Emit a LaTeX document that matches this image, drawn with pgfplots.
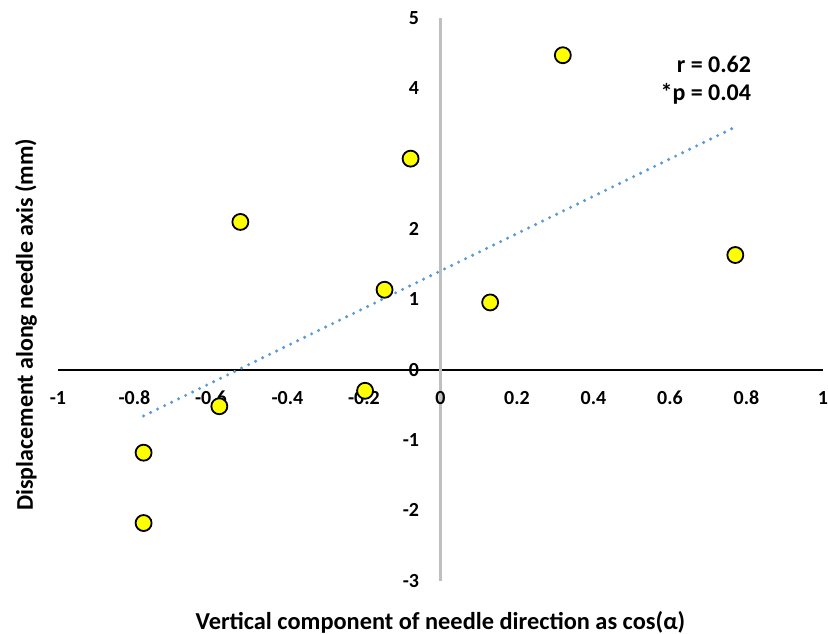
\documentclass[border=0pt]{standalone}
\usepackage{fontspec}
\setmainfont{Carlito}
\usepackage{pgfplots}
\pgfplotsset{compat=1.18}
\definecolor{trendblue}{RGB}{91,155,213}
\definecolor{ptyellow}{RGB}{255,255,0}
\definecolor{yaxisgray}{RGB}{191,191,191}

\begin{document}
\begin{tikzpicture}
\begin{axis}[
    scale only axis,
    width=383pt, height=281.75pt,
    xmin=-1, xmax=1, ymin=-3, ymax=5,
    enlargelimits=false,
    clip=false,
    axis lines=middle,
    hide obscured x ticks=false,
    hide obscured y ticks=false,
    x axis line style={-, black, line width=1pt},
    y axis line style={-, yaxisgray, line width=1.1pt},
    major tick length=0pt,
    xtick={-1,-0.8,-0.6,-0.4,-0.2,0,0.2,0.4,0.6,0.8,1},
    xticklabels={-1,-0.8,-0.6,-0.4,-0.2,0,0.2,0.4,0.6,0.8,1},
    ytick={-3,-2,-1,0,1,2,3,4,5},
    yticklabels={-3,-2,-1,0,1,2,3,4,5},
    xticklabel style={font=\fontsize{10}{11}\selectfont\bfseries, anchor=north, inner sep=0pt, yshift=-10.5pt},
    yticklabel style={font=\fontsize{10}{11}\selectfont\bfseries, anchor=east, inner sep=0pt, xshift=-10.5pt},
    xlabel={Vertical component of needle direction as cos(α)},
    ylabel={Displacement along needle axis (mm)},
    every axis x label/.style={at={(rel axis cs:0.5,-0.054)}, anchor=north, inner sep=0pt,
        font=\fontsize{12.2}{14}\selectfont\bfseries},
    every axis y label/.style={at={(rel axis cs:-0.027,0.455)}, anchor=south, rotate=90, inner sep=0pt,
        font=\fontsize{12}{14}\selectfont\bfseries},
]
% trendline (least squares fit of the points)
\addplot[trendblue, line width=1.7pt, line cap=round, dash pattern=on 0pt off 3.9pt]
    coordinates {(-0.776,-0.657) (0.771,3.45)};
% measured points
\addplot[only marks, mark=*, mark size=4pt,
    mark options={fill=ptyellow, draw=black, line width=0.9pt}]
    coordinates {
    (-0.523,2.10) (-0.078,3.00) (-0.146,1.136) (0.320,4.47) (0.771,1.63)
    (0.130,0.956) (-0.776,-1.18) (-0.776,-2.18) (-0.578,-0.52) (-0.197,-0.30)
    };
\node[anchor=base east, inner sep=0pt, font=\fontsize{12}{14}\selectfont\bfseries]
    at (axis cs:0.813,4.22) {r = 0.62};
\node[anchor=base east, inner sep=0pt, font=\fontsize{12}{14}\selectfont\bfseries]
    at (axis cs:0.813,3.82) {*p = 0.04};
% page extent as in the reference
\path (rel axis cs:-0.0757,-0.0896) rectangle (rel axis cs:1.0052,1.0319);
\end{axis}
\end{tikzpicture}
\end{document}
